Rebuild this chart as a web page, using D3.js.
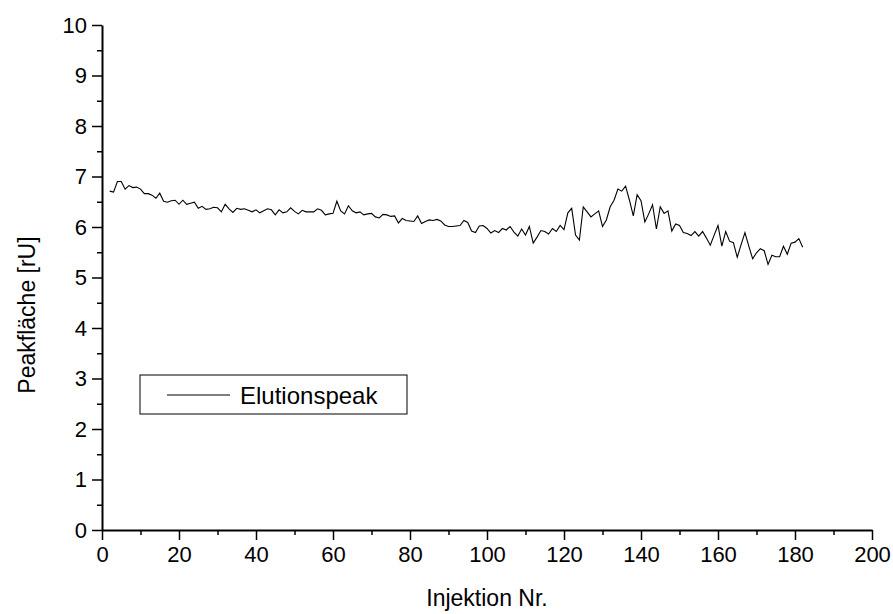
<!DOCTYPE html>
<html>
<head>
<meta charset="utf-8">
<script src="https://cdn.jsdelivr.net/npm/d3@7"></script>
<style>
  html, body { margin: 0; padding: 0; background: #fff; }
  svg { display: block; }
  text { font-family: "Liberation Sans", Arial, sans-serif; fill: #000; }
</style>
</head>
<body>
<svg id="chart" width="893" height="614"></svg>
<script>
// ---- data ----
const firstInjection = 2;
const peakArea = [
  6.71, 6.69, 6.90, 6.90, 6.75, 6.82, 6.78, 6.79, 6.75, 6.66,
  6.66, 6.63, 6.57, 6.67, 6.51, 6.49, 6.52, 6.53, 6.45, 6.53,
  6.45, 6.47, 6.49, 6.37, 6.41, 6.35, 6.36, 6.39, 6.38, 6.30,
  6.45, 6.36, 6.29, 6.37, 6.35, 6.36, 6.33, 6.30, 6.34, 6.28,
  6.32, 6.36, 6.34, 6.24, 6.34, 6.28, 6.30, 6.38, 6.31, 6.26,
  6.33, 6.30, 6.30, 6.30, 6.36, 6.33, 6.24, 6.26, 6.27, 6.51,
  6.32, 6.26, 6.42, 6.32, 6.28, 6.30, 6.24, 6.26, 6.27, 6.20,
  6.18, 6.25, 6.24, 6.21, 6.22, 6.08, 6.17, 6.13, 6.12, 6.11,
  6.22, 6.07, 6.11, 6.14, 6.13, 6.15, 6.12, 6.04, 6.01, 6.01,
  6.02, 6.03, 6.13, 6.09, 5.92, 5.89, 6.02, 6.03, 5.97, 5.88,
  5.93, 5.89, 5.97, 5.94, 6.01, 5.90, 5.82, 5.96, 5.84, 6.01,
  5.68, 5.80, 5.93, 5.91, 5.86, 5.97, 5.91, 6.03, 5.95, 6.28,
  6.37, 5.84, 5.74, 6.40, 6.30, 6.20, 6.26, 6.32, 6.01, 6.14,
  6.40, 6.53, 6.75, 6.71, 6.81, 6.53, 6.22, 6.64, 6.52, 6.10,
  6.26, 6.44, 5.96, 6.40, 6.27, 6.32, 5.92, 6.06, 6.03, 5.89,
  5.87, 5.83, 5.91, 5.82, 5.91, 5.78, 5.64, 5.84, 6.03, 5.62,
  5.91, 5.72, 5.69, 5.40, 5.65, 5.89, 5.62, 5.37, 5.49, 5.57,
  5.53, 5.26, 5.44, 5.41, 5.41, 5.62, 5.46, 5.68, 5.70, 5.77,
  5.60
];
const injection = peakArea.map((_, i) => firstInjection + i);
const xTickValues = [0, 20, 40, 60, 80, 100, 120, 140, 160, 180, 200];
const yTickValues = [0, 1, 2, 3, 4, 5, 6, 7, 8, 9, 10];
const xMinorTicks = [10, 30, 50, 70, 90, 110, 130, 150, 170, 190];
const yMinorTicks = [0.5, 1.5, 2.5, 3.5, 4.5, 5.5, 6.5, 7.5, 8.5, 9.5];
const xTitle = "Injektion Nr.";
const yTitle = "Peakfläche [rU]";
const seriesName = "Elutionspeak";

// ---- layout ----
const svg = d3.select("#chart");
const plotL = 102, plotR = 872, plotT = 25, plotB = 530;
const x = d3.scaleLinear().domain([0, 200]).range([plotL, plotR]);
const y = d3.scaleLinear().domain([0, 10]).range([plotB, plotT]);

// minor ticks
const xMinor = svg.append("g").attr("transform", `translate(0,${plotB})`)
  .call(d3.axisBottom(x).tickValues(xMinorTicks).tickSize(5).tickFormat(""));
xMinor.select(".domain").remove();
const yMinor = svg.append("g").attr("transform", `translate(${plotL},0)`)
  .call(d3.axisLeft(y).tickValues(yMinorTicks).tickSize(5).tickFormat(""));
yMinor.select(".domain").remove();

// major axes
const xAxis = svg.append("g").attr("transform", `translate(0,${plotB})`)
  .call(d3.axisBottom(x).tickValues(xTickValues).tickSize(10).tickSizeOuter(0).tickPadding(6).tickFormat(d3.format("d")));
const yAxis = svg.append("g").attr("transform", `translate(${plotL},0)`)
  .call(d3.axisLeft(y).tickValues(yTickValues).tickSize(10).tickSizeOuter(0).tickPadding(5).tickFormat(d3.format("d")));

svg.selectAll(".domain").attr("stroke", "#000").attr("stroke-width", 2);
svg.selectAll(".tick line").attr("stroke", "#000").attr("stroke-width", 1.5);
xAxis.selectAll(".tick text").style("font-size", "22px").attr("font-family", "Liberation Sans, Arial, sans-serif");
yAxis.selectAll(".tick text").style("font-size", "22px").attr("font-family", "Liberation Sans, Arial, sans-serif");

// line
const line = d3.line().x((d, i) => x(injection[i])).y(d => y(d));
svg.append("path").datum(peakArea)
  .attr("fill", "none").attr("stroke", "#000").attr("stroke-width", 1.1)
  .attr("d", line);

// axis titles
svg.append("text").attr("x", (plotL + plotR) / 2).attr("y", 606)
  .attr("text-anchor", "middle").style("font-size", "23px").text(xTitle);
svg.append("text").attr("transform", `translate(35,315) rotate(-90)`)
  .attr("text-anchor", "middle").style("font-size", "23px").text(yTitle);

// legend
const lg = svg.append("g");
lg.append("rect").attr("x", 140).attr("y", 375).attr("width", 267).attr("height", 39)
  .attr("fill", "#fff").attr("stroke", "#000").attr("stroke-width", 1);
lg.append("line").attr("x1", 167).attr("x2", 230).attr("y1", 395).attr("y2", 395)
  .attr("stroke", "#000").attr("stroke-width", 1.1);
lg.append("text").attr("x", 240).attr("y", 404).style("font-size", "24px").text(seriesName);
</script>
</body>
</html>
